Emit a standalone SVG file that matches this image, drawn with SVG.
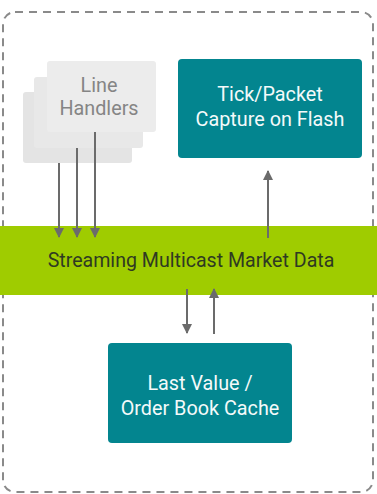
<svg xmlns="http://www.w3.org/2000/svg" width="377" height="494" viewBox="0 0 377 494">
  <style>
    .frame { fill: #ffffff; stroke: #8a8a8a; stroke-width: 2; stroke-dasharray: 8 6; }
    .card { stroke: none; }
    .teal { fill: #03858f; }
    .band { fill: #9fcc00; }
    .lbl { font-family: Roboto, "Liberation Sans", sans-serif; font-size: 19.8px; text-anchor: middle; }
    .lbl-light { fill: #f4fafa; }
    .lbl-gray { fill: #858585; }
    .lbl-dark { fill: #2f3a22; font-size: 19.6px; }
    .conn { stroke: #6b6b6b; stroke-width: 2; fill: none; marker-end: url(#head); }
  </style>
  <defs>
    <marker id="head" viewBox="0 0 10 10" refX="9" refY="5" markerWidth="5" markerHeight="5" markerUnits="strokeWidth" orient="auto">
      <path d="M0,0 L10,5 L0,10 Z" fill="#6b6b6b"/>
    </marker>
  </defs>

  <rect class="frame" x="3" y="12" width="370" height="480" rx="12"/>

  <!-- multicast data band -->
  <g id="market-data">
    <rect class="band" x="0" y="226" width="377" height="69"/>
    <text class="lbl lbl-dark" x="191" y="267">Streaming Multicast Market Data</text>
  </g>

  <!-- stacked line handler cards -->
  <g id="line-handlers">
    <rect class="card" x="23" y="92" width="109" height="71" rx="3" fill="#e4e4e4"/>
    <rect class="card" x="34" y="77" width="109" height="71" rx="3" fill="#e8e8e8"/>
    <rect class="card" x="47" y="61" width="109" height="71" rx="3" fill="#ececec"/>
    <text class="lbl lbl-gray" x="99" y="92">Line</text>
    <text class="lbl lbl-gray" x="99" y="115">Handlers</text>
  </g>

  <g id="tick-capture">
    <rect class="teal" x="178" y="59" width="184" height="99" rx="4"/>
    <text class="lbl lbl-light" x="270" y="101">Tick/Packet</text>
    <text class="lbl lbl-light" x="270" y="126">Capture on Flash</text>
  </g>

  <g id="order-book-cache">
    <rect class="teal" x="108" y="343" width="184" height="100" rx="4"/>
    <text class="lbl lbl-light" x="200" y="390">Last Value /</text>
    <text class="lbl lbl-light" x="200" y="415">Order Book Cache</text>
  </g>

  <g id="connectors">
    <line class="conn" x1="59" y1="163" x2="59" y2="237"/>
    <line class="conn" x1="77" y1="148" x2="77" y2="237"/>
    <line class="conn" x1="95" y1="132" x2="95" y2="237"/>
    <line class="conn" x1="268" y1="238" x2="268" y2="171"/>
    <line class="conn" x1="187" y1="289" x2="187" y2="333"/>
    <line class="conn" x1="214" y1="334" x2="214" y2="289"/>
  </g>
</svg>
